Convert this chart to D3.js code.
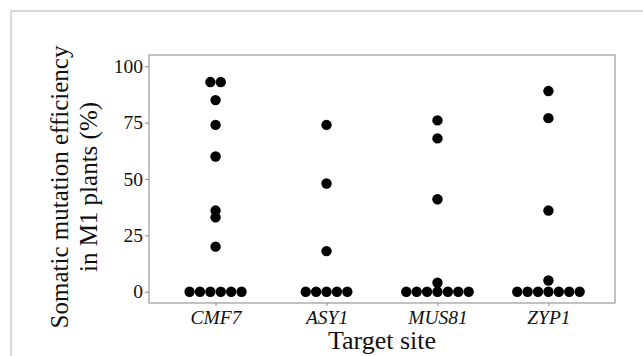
<!DOCTYPE html>
<html>
<head>
<meta charset="utf-8">
<script src="https://cdn.jsdelivr.net/npm/d3@7"></script>
<style>
  body { margin: 0; background: #fff; }
  svg { display: block; }
</style>
</head>
<body>
<div id="chart"></div>
<script>
// target sites and per-plant mutation efficiencies (%)
const sites = ["CMF7", "ASY1", "MUS81", "ZYP1"];
const cmf7 = [0, 0, 0, 0, 0, 0, 20, 33, 36, 60, 74, 85, 93, 93];
const asy1 = [0, 0, 0, 0, 0, 18, 48, 74];
const mus81 = [0, 0, 0, 0, 0, 0, 0, 4, 41, 68, 76];
const zyp1 = [0, 0, 0, 0, 0, 0, 0, 5, 36, 77, 89];
const yTicks = [0, 25, 50, 75, 100];

const seriesBySite = { CMF7: cmf7, ASY1: asy1, MUS81: mus81, ZYP1: zyp1 };

const width = 643, height = 356;
const margin = { top: 55, right: 28, bottom: 53, left: 149 };
const innerW = width - margin.left - margin.right;
const innerH = height - margin.top - margin.bottom;
const r = 5.2;

const svg = d3.select("#chart")
  .append("svg")
  .attr("width", width)
  .attr("height", height)
  .style("font-family", "'Liberation Serif', 'Times New Roman', serif");

// outer light frame
svg.append("rect")
  .attr("x", 11).attr("y", 11)
  .attr("width", 700).attr("height", 400)
  .attr("fill", "none")
  .attr("stroke", "#d9d9d9")
  .attr("stroke-width", 2);

const g = svg.append("g")
  .attr("transform", "translate(" + margin.left + "," + margin.top + ")");

const x = d3.scalePoint()
  .domain(sites)
  .range([0, innerW])
  .padding(0.6);

const y = d3.scaleLinear()
  .domain([-5, 105])
  .range([innerH, 0]);

// panel border
g.append("rect")
  .attr("width", innerW)
  .attr("height", innerH)
  .attr("fill", "none")
  .attr("stroke", "#9a9a9a")
  .attr("stroke-width", 1.2);

// y axis
const yAxis = g.append("g")
  .call(d3.axisLeft(y).tickValues(yTicks).tickSize(4).tickPadding(2));
yAxis.select(".domain").remove();
yAxis.selectAll(".tick line").attr("stroke", "#888");
yAxis.selectAll("text")
  .attr("fill", "#111")
  .style("font-size", "19.5px")
  .style("font-family", "'Liberation Serif', serif");

// x axis
const xAxis = g.append("g")
  .attr("transform", "translate(0," + innerH + ")")
  .call(d3.axisBottom(x).tickSize(3).tickPadding(4));
xAxis.select(".domain").remove();
xAxis.selectAll(".tick line").attr("stroke", "#888");
xAxis.selectAll("text")
  .attr("fill", "#111")
  .style("font-size", "19.5px")
  .style("font-style", "italic")
  .style("font-family", "'Liberation Serif', serif");

// dots: equal values stack sideways, centred on the category
const dots = [];
sites.forEach(function (s) {
  const groups = d3.group(seriesBySite[s], function (v) { return v; });
  groups.forEach(function (vals, v) {
    vals.forEach(function (_, i) {
      dots.push({ site: s, value: v, offset: i - (vals.length - 1) / 2 });
    });
  });
});

g.append("g")
  .selectAll("circle")
  .data(dots)
  .enter()
  .append("circle")
  .attr("cx", function (d) { return x(d.site) + d.offset * 2 * r; })
  .attr("cy", function (d) { return y(d.value); })
  .attr("r", r)
  .attr("fill", "#000");

// axis titles
svg.append("text")
  .attr("x", margin.left + innerW / 2)
  .attr("y", 349)
  .attr("text-anchor", "middle")
  .style("font-size", "26px")
  .attr("fill", "#111")
  .text("Target site");

const yt = svg.append("text")
  .attr("transform", "translate(68,187) rotate(-90)")
  .attr("text-anchor", "middle")
  .style("font-size", "25px")
  .attr("fill", "#111");
yt.append("tspan").attr("x", 0).attr("dy", 0).text("Somatic mutation efficiency");
yt.append("tspan").attr("x", 0).attr("dy", 29).text("in M1 plants (%)");
</script>
</body>
</html>
